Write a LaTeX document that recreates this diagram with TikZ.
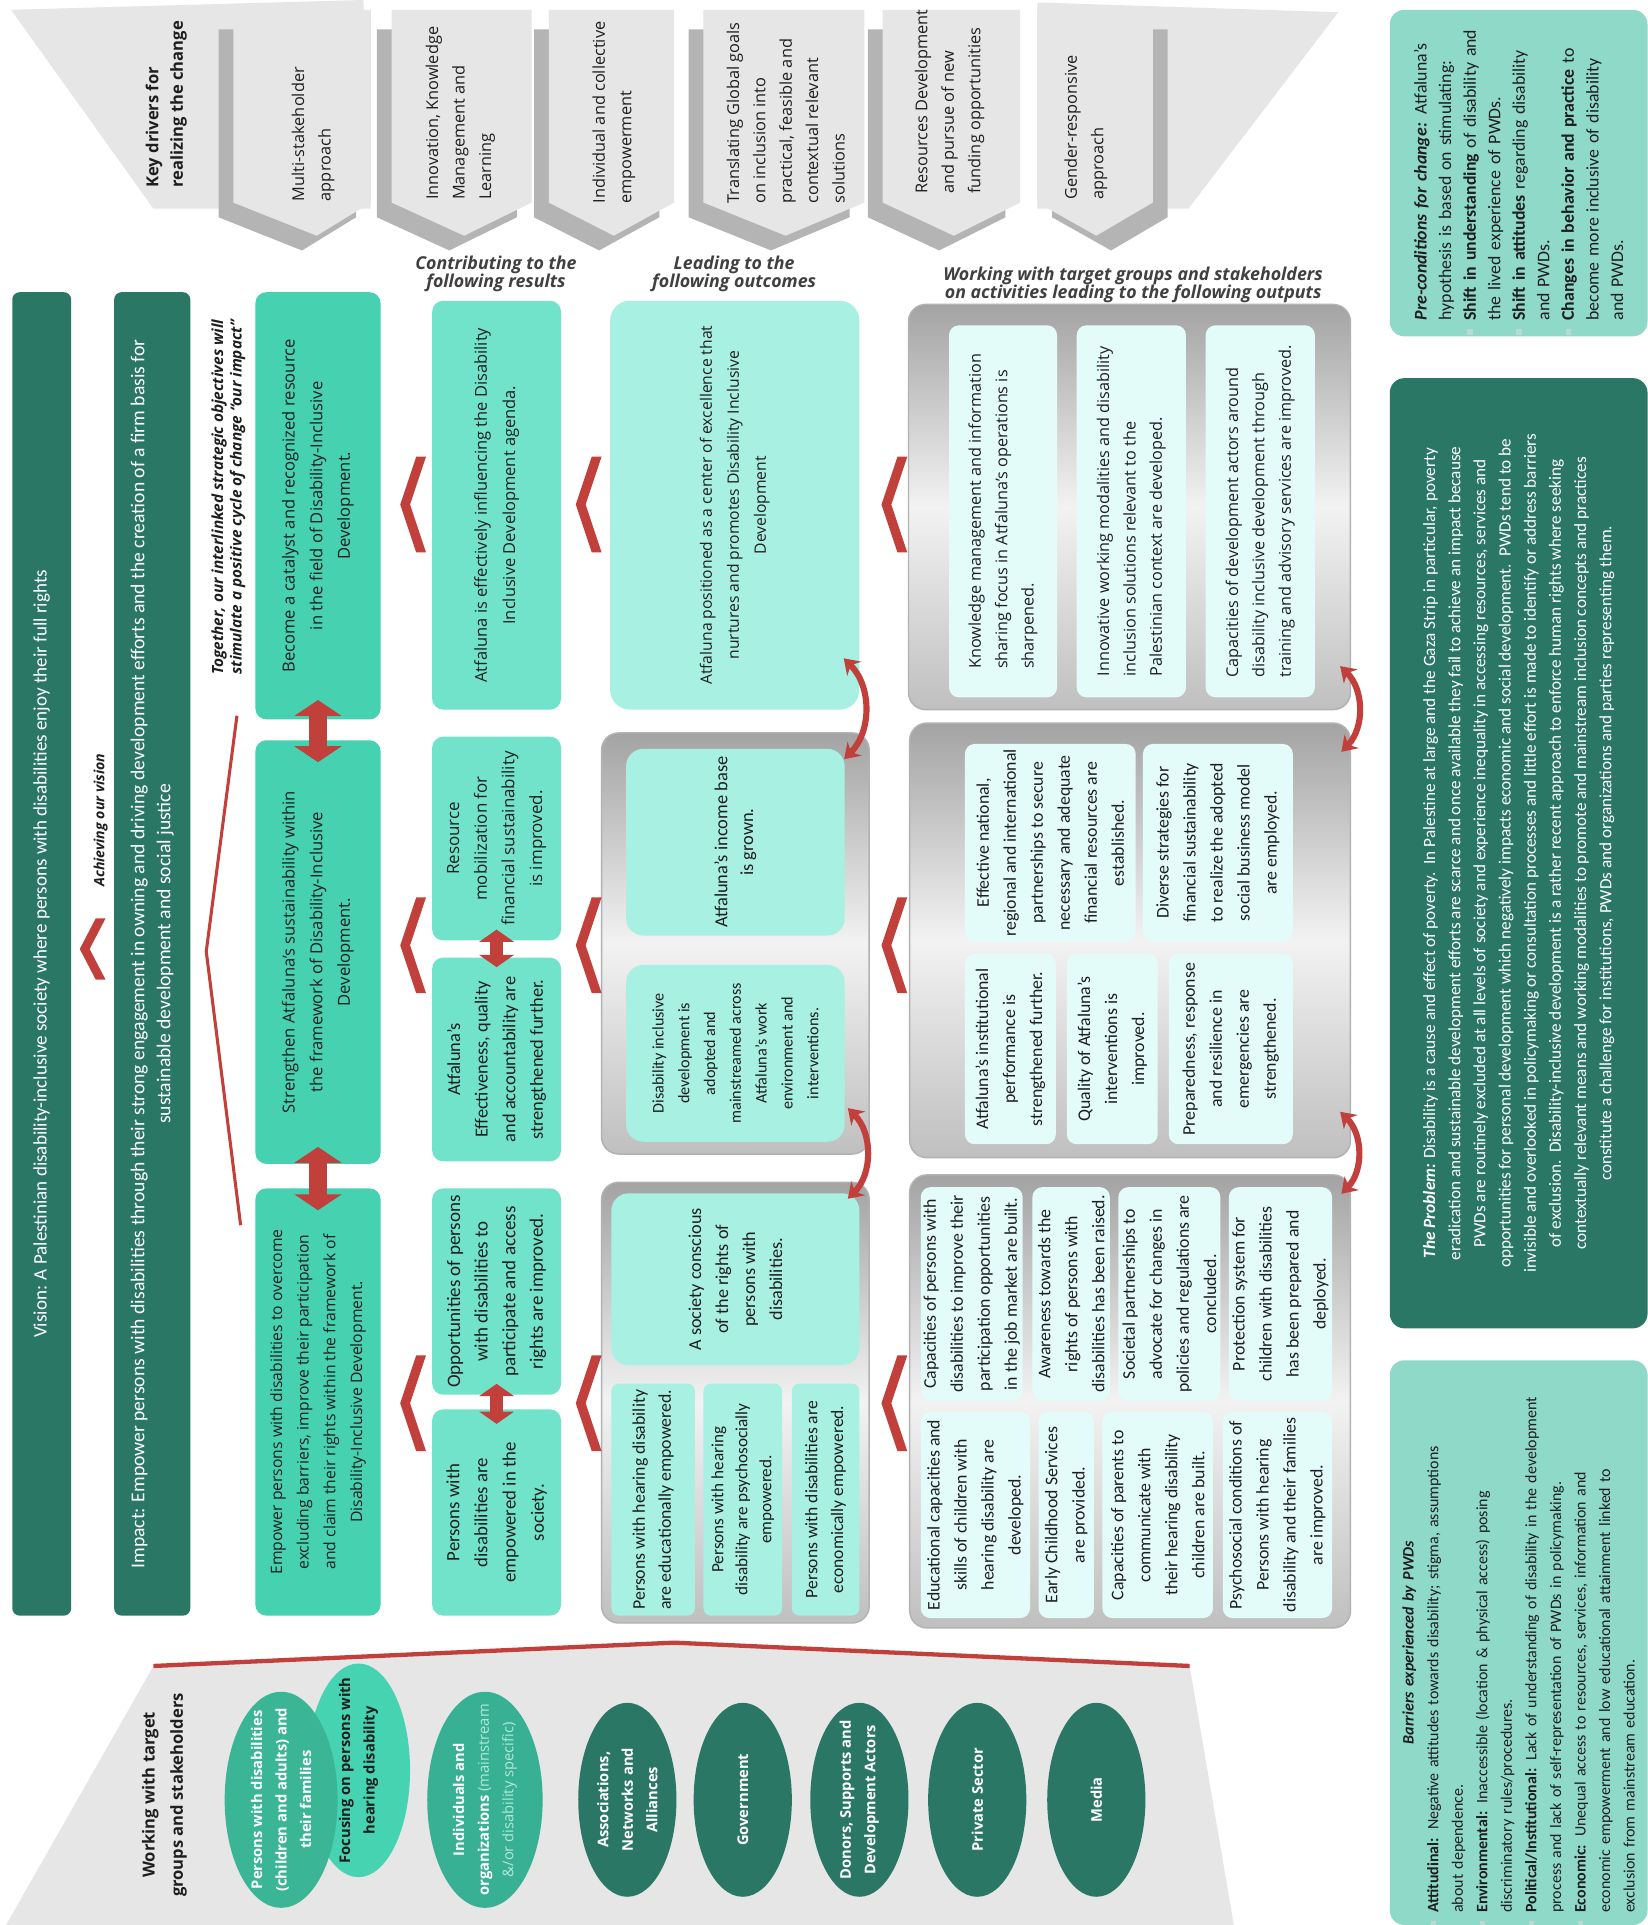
\documentclass[tikz,border=0pt]{standalone}
\usepackage{fontspec}
\setmainfont{Carlito}
\newfontfamily\osans{Open Sans}
\usetikzlibrary{arrows.meta,shapes.geometric,calc}
\definecolor{dteal}{HTML}{2A7766}
\definecolor{soc}{HTML}{46D1B1}
\definecolor{resc}{HTML}{72E3CB}
\definecolor{outc}{HTML}{A8F0E2}
\definecolor{opc}{HTML}{E3FCFA}
\definecolor{notec}{HTML}{8FD9C9}
\definecolor{redc}{HTML}{C2403B}
\definecolor{bgg}{HTML}{E6E6E6}
\definecolor{shg}{HTML}{B4B4B4}
\definecolor{txt}{HTML}{1E1E1E}
\definecolor{e1c}{HTML}{3AB596}
\definecolor{e2c}{HTML}{46D3B2}
\definecolor{e3c}{HTML}{38B094}
\definecolor{lmint}{HTML}{B2E8DA}
\definecolor{bulc}{HTML}{B9D9D1}

\newcommand\mybox[7]{%
  \pgfmathsetmacro\bw{#6-#4}%
  \pgfmathsetmacro\bh{#5-#3}%
  \pgfmathsetmacro\bcx{(#3+#5)/2}%
  \pgfmathsetmacro\bcy{(#4+#6)/2}%
  \node[#2, minimum width=\bw pt, minimum height=\bh pt] (#1) at (\bcx,\bcy) {#7};}
\newcommand\redchev[3]{%
  \pgfmathsetmacro\rcm{(#2+#3)/2}%
  \fill[redc] ({#1+13},#2) -- ({#1+21},#2) -- ({#1+8},\rcm) -- ({#1+21},#3) -- ({#1+13},#3) -- (#1,\rcm) -- cycle;}
\newcommand\chev[4]{%
  \pgfmathsetmacro\cha{#1+(#4)}%
  \pgfmathsetmacro\chb{#2+(#4)}%
  \pgfmathsetmacro\chc{#3+(#4)}%
  \fill[shg] (\cha,24) -- (\chb,24) -- (\chb,177) -- (\chc,204) -- (\cha,177) -- cycle;
  \fill[bgg] (#1,8) -- (#2,8) -- (#2,165) -- (#3,192) -- (#1,165) -- cycle;}
\newcommand\bul{\makebox[0pt][r]{\textcolor{bulc}{\rule[0.15em]{0.32em}{0.32em}}\hspace{0.5em}}}

\tikzset{
  fos/.style 2 args={font=\osans\fontsize{#1}{#2}\selectfont},
  fca/.style 2 args={font=\fontsize{#1}{#2}\selectfont},
  rbox/.style={rotate=90, inner sep=0pt, rounded corners=9pt, align=center, text=txt},
  sob/.style={rbox, fill=soc, fos={13.5}{22.5}},
  resb/.style={rbox, fill=resc},
  outb/.style={rbox, fill=outc},
  opb/.style={rbox, fill=opc, rounded corners=8pt, fca={14.5}{22}},
  cont/.style={rbox, rounded corners=14pt, draw=gray!60, line width=1.2pt, top color=gray!72, bottom color=gray!50, middle color=gray!10},
  notebox/.style={rbox, fill=notec, rounded corners=12pt},
  drv/.style={rotate=90, anchor=west, inner sep=0pt, align=left, text=txt, fos={13.3}{21.5}},
  hdr/.style={inner sep=0pt, align=center, text=txt!85, font=\osans\bfseries\itshape\fontsize{14.5}{15}\selectfont},
  ellb/.style={ellipse, rotate=90, inner sep=0pt},
  etext/.style={rotate=90, align=center, inner sep=0pt, font=\osans\bfseries\fontsize{12}{20}\selectfont, text=white},
  dbl/.style={redc, line width=15pt, {Triangle[length=13pt,width=38pt]}-{Triangle[length=13pt,width=38pt]}},
  dbls/.style={redc, line width=11pt, {Triangle[length=10pt,width=28pt]}-{Triangle[length=10pt,width=28pt]}},
  curv/.style={draw=redc, line width=5pt, {Stealth[length=12pt,width=16pt]}-{Stealth[length=12pt,width=16pt]}},
}

\begin{document}
\begin{tikzpicture}[x=1pt,y=-1pt]
\useasboundingbox (0,0) rectangle (1342,1568);
\fill[white] (0,0) rectangle (1342,1568);

% ---------- key drivers band ----------
\fill[bgg] (9,8) -- (296,0) -- (302,170) -- (125,170) -- cycle;
\fill[bgg] (845,2) -- (1090,10) -- (968,170) -- (845,170) -- cycle;
\chev{190}{302}{258}{-12}
\chev{319}{433}{378}{-12}
\chev{447}{549}{500}{-12}
\chev{573}{704}{640}{-12}
\chev{719}{831}{777}{-12}
\chev{845}{939}{893}{12}
\node[drv, fos={13.5}{20}] (kd) at (135.5,153) {\bfseries Key drivers for\\\bfseries realizing the change};
\node[drv] (d1) at (255,164) {Multi-stakeholder\\approach};
\node[drv] (d2) at (375,163) {Innovation, Knowledge\\Management and\\Learning};
\node[drv] (d3) at (500,166) {Individual and collective\\empowerment};
\node[drv] (d4) at (640,166) {Translating Global goals\\on inclusion into\\practical, feasible and\\contextual relevant\\solutions};
\node[drv] (d5) at (773.5,158) {Resources Development\\and pursue of new\\funding opportunities};
\node[drv] (d6) at (884.5,163) {Gender-responsive\\approach};

% ---------- column headers ----------
\node[hdr] (h1) at (404,223) {Contributing to the\\following results};
\node[hdr] (h2) at (598,223) {Leading to the\\following outcomes};
\node[hdr] (h3) at (923,232) {Working with target groups and stakeholders\\on activities leading to the following outputs};

% ---------- vision / impact ----------
\mybox{vision}{rbox, fill=dteal, rounded corners=6pt, text=white, fca={15.5}{17}}{10}{238}{58}{1316}{Vision: A Palestinian disability-inclusive society where persons with disabilities enjoy their full rights}
\mybox{impact}{rbox, fill=dteal, rounded corners=6pt, text=white, fca={16}{21}}{93}{238}{155}{1316}{Impact: Empower persons with disabilities through their strong engagement in owning and driving development efforts and the creation of a firm basis for\\sustainable development and social justice}
\redchev{65}{748}{798}
\node[rotate=90, inner sep=0pt, text=txt, font=\osans\bfseries\itshape\fontsize{11.5}{13}\selectfont] (ach) at (82,668) {Achieving our vision};
\node[rotate=90, inner sep=0pt, align=center, text=txt, font=\osans\bfseries\itshape\fontsize{12.5}{15}\selectfont] (tog) at (186,405) {Together, our interlinked strategic objectives will\\stimulate a positive cycle of change “our impact”};
\draw[redc, line width=2.5pt] (193,583) -- (168,775) -- (196,998);

% ---------- strategic objectives ----------
\mybox{so1}{sob}{208}{238}{310}{586}{Become a catalyst and recognized resource\\in the field of Disability-Inclusive\\Development.}
\mybox{so2}{sob}{208}{603}{310}{948}{Strengthen Atfaluna’s sustainability within\\the framework of Disability-Inclusive\\Development.}
\mybox{so3}{sob, fos={12.8}{21.7}}{208}{968}{310}{1316}{Empower persons with disabilities to overcome\\excluding barriers, improve their participation\\and claim their rights within the framework of\\Disability-Inclusive Development.}
\draw[dbl] ($(so1.west)+(0,-16)$) -- ($(so2.east)+(0,18)$);
\draw[dbl] ($(so2.west)+(0,-14)$) -- ($(so3.east)+(0,18)$);

% ---------- results ----------
\mybox{r1}{resb, fos={13.4}{23}}{352}{245}{457}{578}{Atfaluna is effectively influencing the Disability\\Inclusive Development agenda.}
\mybox{r2a}{resb, fos={13.8}{22.5}}{352}{600}{457}{766}{Resource\\mobilization for\\financial sustainability\\is improved.}
\mybox{r2b}{resb, fca={15}{22.5}}{352}{780}{457}{946}{Atfaluna’s\\Effectiveness, quality\\and accountability are\\strengthened further.}
\mybox{r3a}{resb, fca={15.5}{22.5}}{352}{968}{457}{1136}{Opportunities of persons\\with disabilities to\\participate and access\\rights are improved.}
\mybox{r3b}{resb, fca={15.3}{23}}{352}{1148}{457}{1316}{Persons with\\disabilities are\\empowered in the\\society.}
\draw[dbls] ($(r2a.west)+(0,-9)$) -- ($(r2b.east)+(0,8)$);
\draw[dbls] ($(r3a.west)+(0,-9)$) -- ($(r3b.east)+(0,12)$);

% ---------- outcomes ----------
\mybox{o1}{outb, rounded corners=16pt, fos={12.8}{22}}{497}{245}{700}{578}{Atfaluna positioned as a center of excellence that\\nurtures and promotes Disability Inclusive\\Development}
\mybox{oc2}{cont}{490}{597}{708}{940}{}
\mybox{o2a}{outb, rounded corners=14pt, fca={15}{21}}{510}{610}{688}{762}{Atfaluna’s income base\\is grown.}
\mybox{o2b}{outb, rounded corners=14pt, fca={13.2}{21}}{510}{786}{688}{930}{Disability inclusive\\development is\\adopted and\\mainstreamed across\\Atfaluna’s work\\environment and\\interventions.}
\mybox{oc3}{cont}{490}{963}{708}{1322}{}
\mybox{o3}{outb, rounded corners=14pt, fca={14.8}{22}}{498}{972}{700}{1112}{A society conscious\\of the rights of\\persons with\\disabilities.}
\mybox{o3a}{outb, rounded corners=6pt, fca={14.5}{21}, align=left}{498}{1127}{566}{1316}{Persons with hearing disability\\are educationally empowered.}
\mybox{o3b}{outb, rounded corners=6pt, fca={14}{19.5}}{573}{1127}{637}{1316}{Persons with hearing\\disability are psychosocially\\empowered.}
\mybox{o3c}{outb, rounded corners=6pt, fca={14.3}{21}}{645}{1127}{700}{1316}{Persons with disabilities are\\economically empowered.}
\draw[curv] ($(o1.south west)+(-13,-42)$) to[bend left=45] ($(oc2.south east)+(-21,22)$);
\draw[curv] ($(oc2.south west)+(-18,-38)$) to[bend left=45] ($(oc3.south east)+(-18,14)$);

% ---------- outputs ----------
\mybox{pc1}{cont}{740}{248}{1100}{578}{}
\mybox{p1a}{opb, fos={13.2}{21.5}, align=left}{773}{265}{861}{568}{Knowledge management and information\\sharing focus in Atfaluna’s operations is\\sharpened.}
\mybox{p1b}{opb, fos={13.2}{21.5}, align=left}{877}{265}{966}{568}{Innovative working modalities and disability\\inclusion solutions relevant to the\\Palestinian context are developed.}
\mybox{p1c}{opb, fos={13.2}{21.5}, align=left}{982}{265}{1071}{568}{Capacities of development actors around\\disability inclusive development through\\training and advisory services are improved.}
\mybox{pc2}{cont}{741}{589}{1100}{943}{}
\mybox{p2a}{opb}{786}{606}{925}{767}{Effective national,\\regional and international\\partnerships to secure\\necessary and adequate\\financial resources are\\established.}
\mybox{p2b}{opb}{931}{606}{1053}{767}{Diverse strategies for\\financial sustainability\\to realize the adopted\\social business model\\are employed.}
\mybox{p2c}{opb}{786}{777}{860}{932}{Atfaluna’s institutional\\performance is\\strengthened further.}
\mybox{p2d}{opb}{869}{777}{943}{932}{Quality of Atfaluna’s\\interventions is\\improved.}
\mybox{p2e}{opb}{952}{777}{1053}{932}{Preparedness, response\\and resilience in\\emergencies are\\strengthened.}
\mybox{pc3}{cont}{741}{957}{1100}{1326}{}
\mybox{p3a}{opb}{750}{967}{833}{1141}{Capacities of persons with\\disabilities to improve their\\participation opportunities\\in the job market are built.}
\mybox{p3b}{opb}{841}{967}{904}{1141}{Awareness towards the\\rights of persons with\\disabilities has been raised.}
\mybox{p3c}{opb}{911}{967}{994}{1141}{Societal partnerships to\\advocate for changes in\\policies and regulations are\\concluded.}
\mybox{p3d}{opb}{1001}{967}{1085}{1141}{Protection system for\\children with disabilities\\has been prepared and\\deployed.}
\mybox{p3e}{opb}{750}{1150}{839}{1318}{Educational capacities and\\skills of children with\\hearing disability are\\developed.}
\mybox{p3f}{opb}{846}{1150}{891}{1318}{Early Childhood Services\\are provided.}
\mybox{p3g}{opb}{898}{1150}{988}{1318}{Capacities of parents to\\communicate with\\their hearing disability\\children are built.}
\mybox{p3h}{opb}{996}{1150}{1085}{1318}{Psychosocial conditions of\\Persons with hearing\\disability and their families\\are improved.}
\draw[curv] ($(pc1.south west)+(-9,-36)$) to[bend left=45] ($(pc2.south east)+(-8,24)$);
\draw[curv] ($(pc2.south west)+(-9,-38)$) to[bend left=45] ($(pc3.south east)+(-8,16)$);

% ---------- red chevrons between columns ----------
\redchev{326}{372}{450} \redchev{469}{372}{450} \redchev{718}{372}{450}
\redchev{326}{731}{809} \redchev{469}{731}{809} \redchev{718}{731}{809}
\redchev{326}{1104}{1182} \redchev{469}{1104}{1182} \redchev{718}{1104}{1182}

% ---------- right notes ----------
\mybox{pre}{notebox, fca={14.5}{20}, align=left, text width=240pt}{1132}{8}{1342}{274}{{\bfseries\itshape Pre-conditions for change:} Atfaluna’s\\hypothesis is based on stimulating:\\\bul{\bfseries Shift in understanding} of disability and\\the lived experience of PWDs.\\\bul{\bfseries Shift in attitudes} regarding disability\\and PWDs.\\\bul{\bfseries Changes in behavior and practice} to\\become more inclusive of disability\\and PWDs.}
\mybox{prob}{rbox, fill=dteal, rounded corners=12pt, text=white, fca={14}{20.5}}{1132}{308}{1342}{1082}{{\bfseries\itshape The Problem:} Disability is a cause and effect of poverty.\ \ In Palestine at large and the Gaza Strip in particular, poverty\\eradication and sustainable development efforts are scarce and once available they fail to achieve an impact because\\PWDs are routinely excluded at all levels of society and experience inequality in accessing resources, services and\\opportunities for personal development which negatively impacts economic and social development.\ \ PWDs tend to be\\invisible and overlooked in policymaking or consultation processes and little effort is made to identify or address barriers\\of exclusion.\ \ Disability-inclusive development is a rather recent approach to enforce human rights where seeking\\contextually relevant means and working modalities to promote and mainstream inclusion concepts and practices\\constitute a challenge for institutions, PWDs and organizations and parties representing them.}
\mybox{bar}{notebox, fca={13}{20}, align=left, text width=440pt}{1132}{1108}{1342}{1568}{\makebox[\hsize][c]{\bfseries\itshape Barriers experienced by PWDs}\\\bul{\bfseries Attitudinal:} Negative attitudes towards disability; stigma, assumptions\\about dependence.\\\bul{\bfseries Environmental:} Inaccessible (location \& physical access) posing\\discriminatory rules/procedures.\\\bul{\bfseries Political/Institutional:} Lack of understanding of disability in the development\\process and lack of self-representation of PWDs in policymaking.\\\bul{\bfseries Economic:} Unequal access to resources, services, information and\\economic empowerment and low educational attainment linked to\\exclusion from mainstream education.}

% ---------- stakeholders ----------
\fill[bgg] (125,1357) -- (549,1338) -- (969,1357) -- (1005,1568) -- (5,1568) -- cycle;
\draw[redc, line width=3.5pt] (125,1357) -- (549,1338) -- (969,1357);
\node[rotate=90, align=center, inner sep=0pt, text=txt, font=\osans\bfseries\fontsize{13.5}{23}\selectfont] (wt) at (134,1462) {Working with target\\groups and stakeholders};
\node[ellb, fill=e2c, minimum width=174pt, minimum height=84pt] (e2) at (292,1442) {};
\node[etext, text=txt] (t2) at (e2.center) {Focusing on persons with\\hearing disability};
\node[ellb, fill=e1c, minimum width=176pt, minimum height=92pt] (e1) at (229,1466) {};
\node[etext] (t1) at (e1.center) {Persons with disabilities\\(children and adults) and\\their families};
\node[ellb, fill=e3c, minimum width=176pt, minimum height=94pt] (e3) at (395,1466) {};
\node[etext] (t3) at (e3.center) {Individuals and\\organizations {\mdseries\color{lmint}(mainstream}\\{\mdseries\color{lmint}\&/or disability specific)}};
\node[ellb, fill=dteal, minimum width=158pt, minimum height=80pt] (e4) at (511,1466) {};
\node[etext] (t4) at (e4.center) {Associations,\\Networks and\\Alliances};
\node[ellb, fill=dteal, minimum width=158pt, minimum height=80pt] (e5) at (605,1466) {};
\node[etext] (t5) at (e5.center) {Government};
\node[ellb, fill=dteal, minimum width=158pt, minimum height=80pt] (e6) at (700,1466) {};
\node[etext] (t6) at (e6.center) {Donors, Supports and\\Development Actors};
\node[ellb, fill=dteal, minimum width=158pt, minimum height=80pt] (e7) at (796,1466) {};
\node[etext] (t7) at (e7.center) {Private Sector};
\node[ellb, fill=dteal, minimum width=158pt, minimum height=80pt] (e8) at (893,1466) {};
\node[etext] (t8) at (e8.center) {Media};
\end{tikzpicture}
\end{document}
